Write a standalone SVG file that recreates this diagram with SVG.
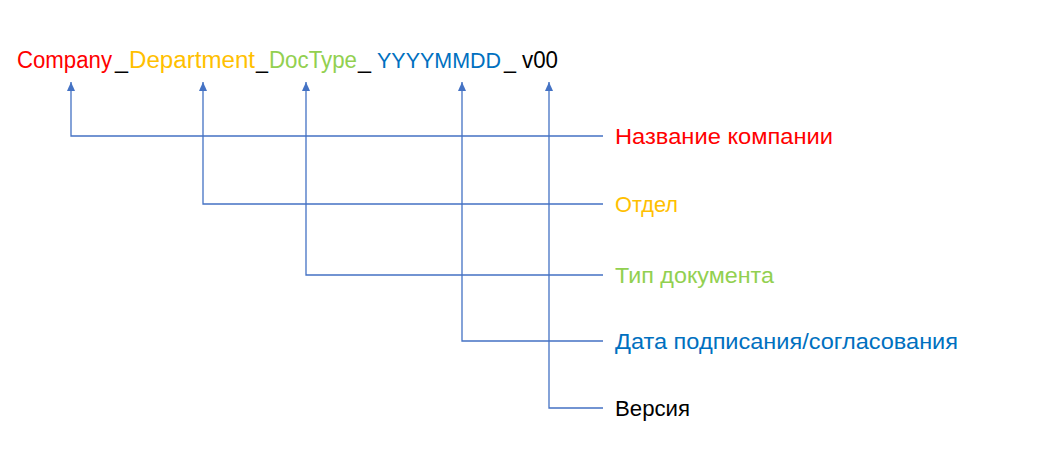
<svg xmlns="http://www.w3.org/2000/svg" width="1043" height="469" viewBox="0 0 1043 469">
<style>
text{font-family:"Liberation Sans",Arial,sans-serif}
.t{font-size:23px}
.l{font-size:22px}
.r{fill:#FF0000}.o{fill:#FFC000}.g{fill:#92D050}.b{fill:#0070C0}.k{fill:#000000}
.ln{fill:none;stroke:#4472C4;stroke-width:1.3}
</style>
<defs>
<marker id="ah" viewBox="0 0 10 10" refX="10" refY="5" markerWidth="9" markerHeight="8" markerUnits="userSpaceOnUse" orient="auto" preserveAspectRatio="none">
<path d="M0,0 L10,5 L0,10 z" fill="#4472C4"/>
</marker>
</defs>
<g id="title">
<text class="t r" x="17" y="68" textLength="95" lengthAdjust="spacingAndGlyphs">Company</text>
<text class="t k" x="115" y="68" textLength="13" lengthAdjust="spacingAndGlyphs">_</text>
<text class="t o" x="129" y="68" textLength="126" lengthAdjust="spacingAndGlyphs">Department</text>
<text class="t k" x="256" y="68" textLength="12" lengthAdjust="spacingAndGlyphs">_</text>
<text class="t g" x="269" y="68" textLength="88" lengthAdjust="spacingAndGlyphs">DocType</text>
<text class="t k" x="358" y="68" textLength="13" lengthAdjust="spacingAndGlyphs">_</text>
<text class="t b" x="377" y="68" style="font-size:21.5px" textLength="124" lengthAdjust="spacingAndGlyphs">YYYYMMDD</text>
<text class="t k" x="504" y="68" textLength="12" lengthAdjust="spacingAndGlyphs">_</text>
<text class="t k" x="522" y="68" textLength="36" lengthAdjust="spacingAndGlyphs">v00</text>
</g>
<g id="connectors">
<path class="ln" d="M603,136 H71 V82" marker-end="url(#ah)"/>
<path class="ln" d="M603,204 H203 V82" marker-end="url(#ah)"/>
<path class="ln" d="M603,275 H306 V82" marker-end="url(#ah)"/>
<path class="ln" d="M603,341 H462 V82" marker-end="url(#ah)"/>
<path class="ln" d="M603,408 H549 V82" marker-end="url(#ah)"/>
</g>
<g id="n1"><text class="l r" x="615" y="144" textLength="218" lengthAdjust="spacingAndGlyphs">Название компании</text></g>
<g id="n2"><text class="l o" x="615" y="212" textLength="63" lengthAdjust="spacingAndGlyphs">Отдел</text></g>
<g id="n3"><text class="l g" x="615" y="283" textLength="159" lengthAdjust="spacingAndGlyphs">Тип документа</text></g>
<g id="n4"><text class="l b" x="615" y="349" textLength="343" lengthAdjust="spacingAndGlyphs">Дата подписания/согласования</text></g>
<g id="n5"><text class="l k" x="615" y="416" textLength="75" lengthAdjust="spacingAndGlyphs">Версия</text></g>
</svg>
